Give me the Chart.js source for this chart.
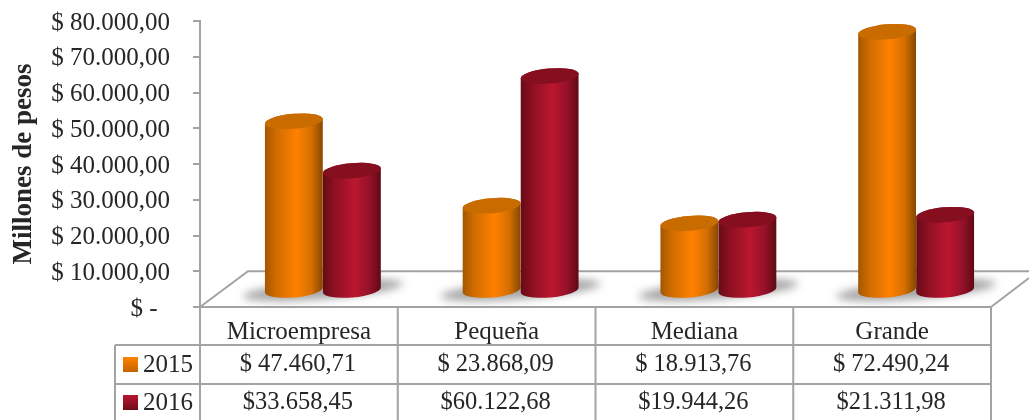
<!DOCTYPE html>
<html>
<head>
<meta charset="utf-8">
<style>
  html, body { margin: 0; padding: 0; background: #fff; overflow: hidden; }
  canvas { display: block; }
</style>
<script src="https://cdn.jsdelivr.net/npm/chart.js@4"></script>
</head>
<body>
<canvas id="chart" width="1029" height="420"></canvas>
<script>
const categories = ['Microempresa', 'Pequeña', 'Mediana', 'Grande'];
const years = ['2015', '2016'];
const values2015 = [47460.71, 23868.09, 18913.76, 72490.24];
const values2016 = [33658.45, 60122.68, 19944.26, 21311.98];
const cells2015 = ['$ 47.460,71', '$ 23.868,09', '$ 18.913,76', '$ 72.490,24'];
const cells2016 = ['$33.658,45', '$60.122,68', '$19.944,26', '$21.311,98'];
const tickLabels = ['$ -  ', '$ 10.000,00', '$ 20.000,00', '$ 30.000,00', '$ 40.000,00',
  '$ 50.000,00', '$ 60.000,00', '$ 70.000,00', '$ 80.000,00'];

const FONT = '"Liberation Serif", serif';
const TEXT = '#262626';
const LINE = '#a3a3a3';
// how far the bars sit inside the 3d floor
const DEPTH_X = 24, DEPTH_Y = 16;
const ROWS = [345, 384, 423];

const looks = [
  { base: '#ff8000', top: '#c96c00', swatch: ['#ff8400', '#c46200'],
    side: ['#a35700', '#d06c00', '#ff8000', '#d56f00', '#864700'] },
  { base: '#b5162e', top: '#850f1e', swatch: ['#b9172f', '#700c18'],
    side: ['#660b15', '#8e1022', '#bb172f', '#95112a', '#5f0a13'] }
];

function cylinder(c, x, top, bottom, w, look) {
  const rx = w / 2, ry = 7.5, rot = -0.085;
  const g = c.createLinearGradient(x - rx, 0, x + rx, 0);
  [0, 0.2, 0.55, 0.8, 1].forEach((s, i) => g.addColorStop(s, look.side[i]));
  c.beginPath();
  c.ellipse(x, top, rx, ry, rot, 0, Math.PI, true);
  c.ellipse(x, bottom, rx, ry, rot, Math.PI, 0, true);
  c.closePath();
  c.fillStyle = g;
  c.fill();
  c.beginPath();
  c.ellipse(x, top, rx, ry, rot, 0, Math.PI * 2);
  c.fillStyle = look.top;
  c.fill();
}

const cylinders = {
  id: 'cylinders',
  beforeDatasetsDraw(chart) {
    const c = chart.ctx, a = chart.chartArea;
    const floorBack = chart.scales.y.getPixelForValue(10000);
    c.save();
    c.strokeStyle = LINE;
    c.lineWidth = 2;
    c.beginPath();
    c.moveTo(a.left, a.bottom);
    c.lineTo(a.left + 48, floorBack);
    c.lineTo(chart.width, floorBack);
    c.moveTo(a.right, a.bottom);
    c.lineTo(chart.width, a.bottom - 29);
    c.stroke();

    const first = chart.getDatasetMeta(0).data, second = chart.getDatasetMeta(1).data;
    c.filter = 'blur(4px)';
    c.fillStyle = '#a5a5a5';
    first.forEach((bar, i) => {
      const mid = (bar.x + second[i].x) / 2 + DEPTH_X;
      c.beginPath();
      c.ellipse(mid, bar.base - DEPTH_Y, 80, 9, -0.08, 0, Math.PI * 2);
      c.fill();
    });
    c.filter = 'none';

    [first, second].forEach((bars, s) => bars.forEach(bar => {
      cylinder(c, bar.x + DEPTH_X, bar.y - DEPTH_Y, bar.base - DEPTH_Y, bar.width, looks[s]);
    }));
    c.restore();
    return false;
  }
};

const dataTable = {
  id: 'dataTable',
  afterDraw(chart) {
    const c = chart.ctx, a = chart.chartArea, xs = chart.scales.x;
    const tableLeft = 115;
    const step = (a.right - a.left) / categories.length;
    c.save();
    c.strokeStyle = LINE;
    c.lineWidth = 2;
    c.beginPath();
    c.moveTo(a.left, a.bottom); c.lineTo(a.right, a.bottom);
    ROWS.forEach(y => { c.moveTo(tableLeft, y); c.lineTo(a.right, y); });
    c.moveTo(tableLeft, ROWS[0]); c.lineTo(tableLeft, ROWS[2]);
    for (let i = 0; i <= categories.length; i++) {
      const x = a.left + i * step;
      c.moveTo(x, a.bottom); c.lineTo(x, ROWS[2]);
    }
    c.stroke();

    c.fillStyle = TEXT;
    c.textAlign = 'center';
    c.textBaseline = 'middle';
    categories.forEach((name, i) => {
      const x = xs.getPixelForValue(i);
      c.font = '25px ' + FONT;
      c.fillText(name, x, 332);
      c.font = '24.5px ' + FONT;
      c.fillText(cells2015[i], x - 1, 365);
      c.fillText(cells2016[i], x - 1, 403);
    });
    c.font = '25px ' + FONT;
    years.forEach((year, s) => {
      const y = s ? 403 : 365;
      const g = c.createLinearGradient(0, y - 8, 0, y + 7);
      g.addColorStop(0, looks[s].swatch[0]);
      g.addColorStop(1, looks[s].swatch[1]);
      c.fillStyle = g;
      c.fillRect(123, y - 8, 15, 15);
      c.fillStyle = TEXT;
      c.textAlign = 'left';
      c.fillText(year, 143, y);
    });
    c.restore();
  }
};

new Chart(document.getElementById('chart'), {
  type: 'bar',
  data: {
    labels: categories,
    datasets: [
      { label: years[0], data: values2015, backgroundColor: looks[0].base },
      { label: years[1], data: values2016, backgroundColor: looks[1].base }
    ]
  },
  plugins: [cylinders, dataTable],
  options: {
    responsive: false,
    animation: false,
    layout: { padding: { top: 21, bottom: 113, left: 0, right: 38 } },
    datasets: { bar: { barPercentage: 1, categoryPercentage: 0.587 } },
    plugins: { legend: { display: false }, tooltip: { enabled: false } },
    scales: {
      x: { display: false },
      y: {
        min: 0,
        max: 80000,
        afterFit(scale) {
          scale.width = 200;
          // tick padding would otherwise push the plot top down
          scale.paddingTop = 0;
          scale.paddingBottom = 0;
        },
        border: { color: LINE, width: 2 },
        grid: { drawOnChartArea: false, color: LINE, lineWidth: 2, tickLength: 7 },
        ticks: {
          stepSize: 10000,
          padding: 23,
          labelOffset: 2,
          color: TEXT,
          font: { family: FONT, size: 25 },
          callback: v => tickLabels[v / 10000]
        },
        title: {
          display: true,
          text: 'Millones de pesos',
          color: TEXT,
          font: { family: FONT, size: 27, weight: 'bold' },
          padding: { top: 8, bottom: 0 }
        }
      }
    }
  }
});
</script>
</body>
</html>
